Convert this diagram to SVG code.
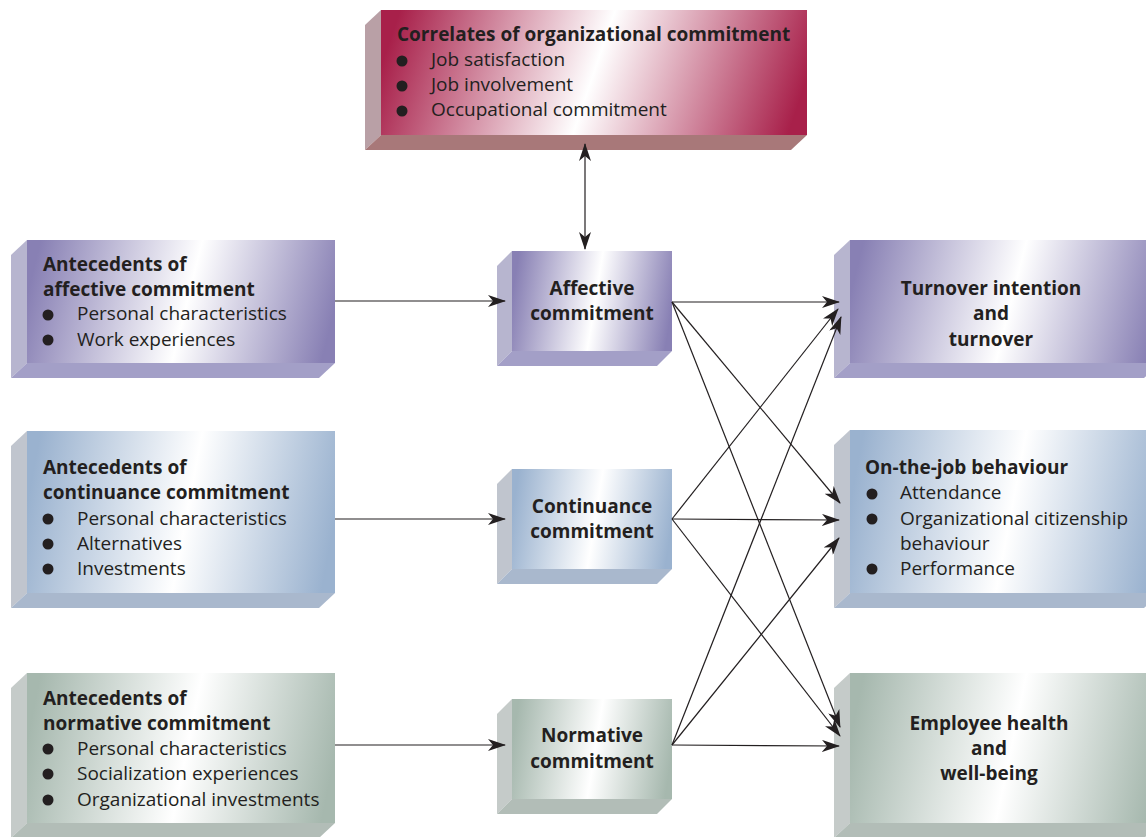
<svg xmlns="http://www.w3.org/2000/svg" width="1146" height="837" viewBox="0 0 1146 837">
<defs>
<linearGradient id="gRed" x1="0" y1="0.45" x2="1" y2="0.55">
<stop offset="0" stop-color="#a8204a"/><stop offset="0.5" stop-color="#ffffff"/><stop offset="1" stop-color="#a8204a"/>
</linearGradient>
<linearGradient id="gPur" x1="0" y1="0.45" x2="1" y2="0.55">
<stop offset="0" stop-color="#8880b4"/><stop offset="0.52" stop-color="#ffffff"/><stop offset="1" stop-color="#8880b4"/>
</linearGradient>
<linearGradient id="gBlu" x1="0" y1="0.45" x2="1" y2="0.55">
<stop offset="0" stop-color="#9ab2cf"/><stop offset="0.52" stop-color="#ffffff"/><stop offset="1" stop-color="#9ab2cf"/>
</linearGradient>
<linearGradient id="gGrn" x1="0" y1="0.45" x2="1" y2="0.55">
<stop offset="0" stop-color="#a6b8ae"/><stop offset="0.52" stop-color="#ffffff"/><stop offset="1" stop-color="#a6b8ae"/>
</linearGradient>
<marker id="ah" markerWidth="18" markerHeight="12" refX="17" refY="6" orient="auto" markerUnits="userSpaceOnUse">
<path d="M0,0 L18,6 L0,12 L5,6 Z" fill="#231f20"/>
</marker>
<marker id="ahs" markerWidth="18" markerHeight="12" refX="1" refY="6" orient="auto" markerUnits="userSpaceOnUse">
<path d="M18,0 L0,6 L18,12 L13,6 Z" fill="#231f20"/>
</marker>
</defs>
<style>
text{font-family:"Open Sans","Noto Sans","Liberation Sans",sans-serif;font-size:19px;fill:#231f20}
.b{font-weight:bold}
.c{text-anchor:middle}
.redL{fill:#b9a0a6}.redB{fill:#a87879}
.purL{fill:#b7b5cf}.purB{fill:#a39fc7}
.bluL{fill:#c0c5ce}.bluB{fill:#a9b8cd}
.grnL{fill:#c5cbc9}.grnB{fill:#b2bdb7}
.conn line{stroke:#231f20;stroke-width:1.2;fill:none}
</style>

<g id="correlates">
<polygon class="redL" points="381,10 365,25 365,150 381,135"/>
<polygon class="redB" points="381,135 807,135 791,150 365,150"/>
<rect x="381" y="10" width="426" height="125" fill="url(#gRed)"/>
<text x="397" y="41" class="b">Correlates of organizational commitment</text>
<circle cx="402" cy="61" r="5.5" fill="#231f20"/><text x="431" y="66">Job satisfaction</text>
<circle cx="402" cy="86" r="5.5" fill="#231f20"/><text x="431" y="91">Job involvement</text>
<circle cx="402" cy="111" r="5.5" fill="#231f20"/><text x="431" y="116">Occupational commitment</text>
</g>

<g id="ante-affective">
<polygon class="purL" points="27,240 11,255 11,378 27,363"/>
<polygon class="purB" points="27,363 335,363 319,378 11,378"/>
<rect x="27" y="240" width="308" height="123" fill="url(#gPur)"/>
<text x="43" y="271" class="b">Antecedents of</text>
<text x="43" y="296" class="b">affective commitment</text>
<circle cx="48" cy="315" r="5.5" fill="#231f20"/><text x="77" y="320">Personal characteristics</text>
<circle cx="48" cy="340" r="5.5" fill="#231f20"/><text x="77" y="346">Work experiences</text>
</g>

<g id="ante-continuance">
<polygon class="bluL" points="27,431 11,446 11,608 27,593"/>
<polygon class="bluB" points="27,593 335,593 319,608 11,608"/>
<rect x="27" y="431" width="308" height="162" fill="url(#gBlu)"/>
<text x="43" y="474" class="b">Antecedents of</text>
<text x="43" y="499" class="b">continuance commitment</text>
<circle cx="48" cy="519" r="5.5" fill="#231f20"/><text x="77" y="525">Personal characteristics</text>
<circle cx="48" cy="544" r="5.5" fill="#231f20"/><text x="77" y="550">Alternatives</text>
<circle cx="48" cy="569" r="5.5" fill="#231f20"/><text x="77" y="575">Investments</text>
</g>

<g id="ante-normative">
<polygon class="grnL" points="27,673 11,688 11,838 27,823"/>
<polygon class="grnB" points="27,823 335,823 319,838 11,838"/>
<rect x="27" y="673" width="308" height="150" fill="url(#gGrn)"/>
<text x="43" y="705" class="b">Antecedents of</text>
<text x="43" y="730" class="b">normative commitment</text>
<circle cx="48" cy="749" r="5.5" fill="#231f20"/><text x="77" y="755">Personal characteristics</text>
<circle cx="48" cy="774" r="5.5" fill="#231f20"/><text x="77" y="780">Socialization experiences</text>
<circle cx="48" cy="800" r="5.5" fill="#231f20"/><text x="77" y="806">Organizational investments</text>
</g>

<g id="affective">
<polygon class="purL" points="512,251 497,266 497,366 512,351"/>
<polygon class="purB" points="512,351 672,351 657,366 497,366"/>
<rect x="512" y="251" width="160" height="100" fill="url(#gPur)"/>
<text x="592" y="295" class="b c">Affective</text>
<text x="592" y="320" class="b c">commitment</text>
</g>

<g id="continuance">
<polygon class="bluL" points="512,469 497,484 497,584 512,569"/>
<polygon class="bluB" points="512,569 672,569 657,584 497,584"/>
<rect x="512" y="469" width="160" height="100" fill="url(#gBlu)"/>
<text x="592" y="513" class="b c">Continuance</text>
<text x="592" y="538" class="b c">commitment</text>
</g>

<g id="normative">
<polygon class="grnL" points="512,699 497,714 497,814 512,799"/>
<polygon class="grnB" points="512,799 672,799 657,814 497,814"/>
<rect x="512" y="699" width="160" height="100" fill="url(#gGrn)"/>
<text x="592" y="742" class="b c">Normative</text>
<text x="592" y="768" class="b c">commitment</text>
</g>

<g id="turnover">
<polygon class="purL" points="850,240 834,255 834,378 850,363"/>
<polygon class="purB" points="850,363 1160,363 1144,378 834,378"/>
<rect x="850" y="240" width="310" height="123" fill="url(#gPur)"/>
<text x="991" y="295" class="b c">Turnover intention</text>
<text x="991" y="320" class="b c">and</text>
<text x="991" y="346" class="b c">turnover</text>
</g>

<g id="onthejob">
<polygon class="bluL" points="850,430 834,445 834,608 850,593"/>
<polygon class="bluB" points="850,593 1160,593 1144,608 834,608"/>
<rect x="850" y="430" width="310" height="163" fill="url(#gBlu)"/>
<text x="865" y="474" class="b">On-the-job behaviour</text>
<circle cx="872" cy="494" r="5.5" fill="#231f20"/><text x="900" y="499">Attendance</text>
<circle cx="872" cy="519" r="5.5" fill="#231f20"/><text x="900" y="525">Organizational citizenship</text>
<text x="900" y="550">behaviour</text>
<circle cx="872" cy="569" r="5.5" fill="#231f20"/><text x="900" y="575">Performance</text>
</g>

<g id="health">
<polygon class="grnL" points="850,673 834,688 834,838 850,823"/>
<polygon class="grnB" points="850,823 1160,823 1144,838 834,838"/>
<rect x="850" y="673" width="310" height="150" fill="url(#gGrn)"/>
<text x="989" y="730" class="b c">Employee health</text>
<text x="989" y="755" class="b c">and</text>
<text x="989" y="780" class="b c">well-being</text>
</g>

<g id="connectors" class="conn">
<line x1="585" y1="144" x2="585" y2="249" marker-start="url(#ahs)" marker-end="url(#ah)"/>
<line x1="335" y1="301" x2="505" y2="301" marker-end="url(#ah)"/>
<line x1="335" y1="519" x2="505" y2="519" marker-end="url(#ah)"/>
<line x1="335" y1="745" x2="505" y2="745" marker-end="url(#ah)"/>
<line x1="672" y1="302" x2="839" y2="302" marker-end="url(#ah)"/>
<line x1="672" y1="302" x2="840" y2="503" marker-end="url(#ah)"/>
<line x1="672" y1="302" x2="840" y2="727" marker-end="url(#ah)"/>
<line x1="672" y1="519" x2="838" y2="309" marker-end="url(#ah)"/>
<line x1="672" y1="519" x2="839" y2="520" marker-end="url(#ah)"/>
<line x1="672" y1="519" x2="840" y2="736" marker-end="url(#ah)"/>
<line x1="672" y1="745" x2="841" y2="317" marker-end="url(#ah)"/>
<line x1="672" y1="745" x2="839" y2="538" marker-end="url(#ah)"/>
<line x1="672" y1="745" x2="839" y2="746" marker-end="url(#ah)"/>
</g>
</svg>
